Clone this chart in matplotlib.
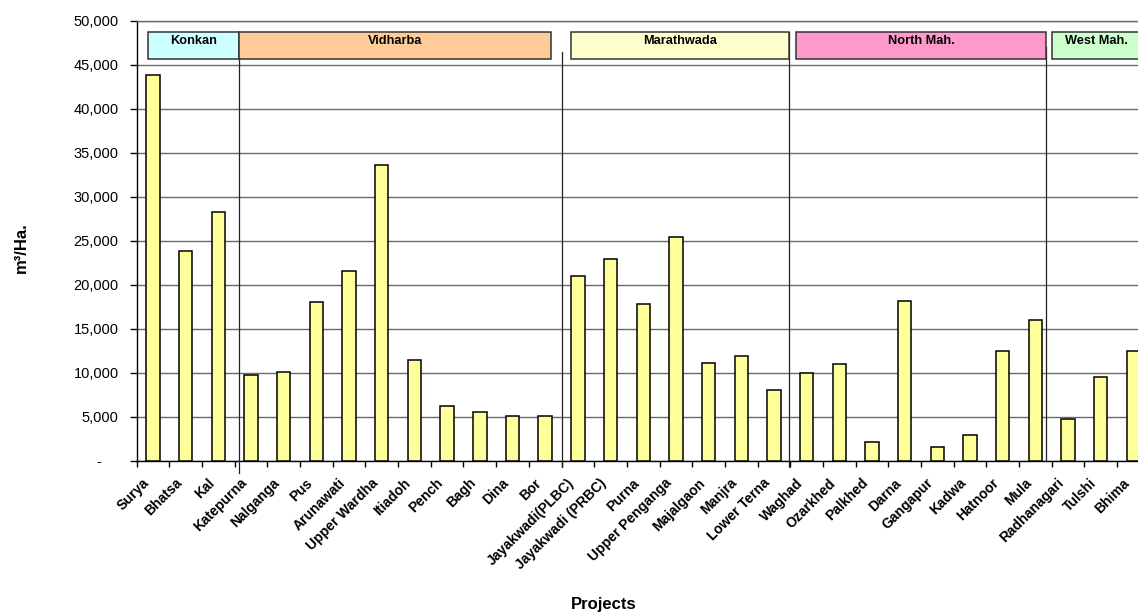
import numpy as np
import matplotlib
matplotlib.use("Agg")
import matplotlib.pyplot as plt
from matplotlib.patches import Rectangle
from matplotlib.ticker import FuncFormatter, MultipleLocator
import matplotlib.transforms as mtransforms

plt.rcParams["font.family"] = ["Liberation Sans", "DejaVu Sans"]

# Irrigation water use per project (m3 per hectare)
projects = [
    "Surya", "Bhatsa", "Kal",
    "Katepurna", "Nalganga", "Pus", "Arunawati", "Upper Wardha", "Itiadoh",
    "Pench", "Bagh", "Dina", "Bor",
    "Jayakwadi(PLBC)", "Jayakwadi (PRBC)", "Purna", "Upper Penganga",
    "Majalgaon", "Manjra", "Lower Terna",
    "Waghad", "Ozarkhed", "Palkhed", "Darna", "Gangapur", "Kadwa", "Hatnoor", "Mula",
    "Radhanagari", "Tulshi", "Bhima",
]
water_use = [
    43800, 23800, 28300,
    9700, 10100, 18000, 21600, 33600, 11400, 6250, 5530, 5110, 5110,
    21000, 22900, 17850, 25400, 11100, 11900, 8030,
    10000, 10950, 2150, 18200, 1560, 2920, 12500, 15950,
    4740, 9470, 12430,
]

regions = ["Konkan", "Vidharba", "Marathwada", "North Mah.", "West Mah."]
region_sizes = [3, 10, 7, 8, 3]
region_colors = ["#CCFFFF", "#FFCC99", "#FFFFCC", "#FF99CC", "#CCFFCC"]

# Header box insets (left, right) relative to each region's category span
header_insets = [(0.34, -0.12), (0.12, 0.31), (0.30, 0.05), (0.18, 0.17), (0.0, 0.26)]
header_bottom, header_top = 45650, 48750
# Region separator lines: x offset from boundary, top and bottom (data units)
sep_offsets = [0.12, 0.02, -0.05, -0.18]
sep_tops = [48750, 46400, 48750, 47030]
sep_bottoms = [-1400, -720, -720, 0]

W, H = 1138, 615
fig = plt.figure(figsize=(W / 100, H / 100), dpi=100)
ax = fig.add_axes([136.7 / W, 1 - 460.7 / H, 1013 / W, 440 / H])

x = np.arange(len(projects))
ax.bar(x, water_use, width=0.41, color="#FFFF99", edgecolor="black",
       linewidth=1.1, zorder=3)

ax.set_xlim(-0.5, len(projects) - 0.5)
ax.set_ylim(0, 50000)

# Grid and spines
ax.yaxis.set_major_locator(MultipleLocator(5000))
ax.yaxis.grid(True, color="#6a6a6a", linewidth=1.0)
ax.set_axisbelow(True)
ax.spines["right"].set_visible(False)
ax.spines["top"].set_color("#6a6a6a")
ax.spines["top"].set_linewidth(1.0)
for side in ("left", "bottom"):
    ax.spines[side].set_color("black")
    ax.spines[side].set_linewidth(1.0)

ax.yaxis.set_major_formatter(FuncFormatter(
    lambda v, _: "-    " if v == 0 else f"{v:,.0f}"))
ax.tick_params(axis="y", length=5, width=1, pad=8, labelsize=10.5,
               colors="black")

# Category ticks sit between bars; labels at bar centres
ax.set_xticks(x)
ax.set_xticklabels(projects, rotation=45, ha="right", va="top",
                   rotation_mode="anchor", fontweight="bold", fontsize=10)
ax.set_xticks(np.arange(-0.5, len(projects), 1), minor=True)
ax.tick_params(axis="x", which="major", length=0, pad=11)
ax.tick_params(axis="x", which="minor", length=4, width=1)
shift = mtransforms.ScaledTranslation(-11 / 100, 0, fig.dpi_scale_trans)
for lbl in ax.get_xticklabels():
    lbl.set_transform(lbl.get_transform() + shift)

# Region headers and separators
edges = np.concatenate([[0], np.cumsum(region_sizes)]) - 0.5
for i, (name, color) in enumerate(zip(regions, region_colors)):
    lp, rp = header_insets[i]
    left = edges[i] + lp
    right = edges[i + 1] - rp
    ax.add_patch(Rectangle((left, header_bottom), right - left,
                           header_top - header_bottom, facecolor=color,
                           edgecolor="#333333", linewidth=1.1, zorder=5,
                           clip_on=False))
    ax.annotate(name, ((left + right) / 2, header_top), xytext=(0, -2.5),
                textcoords="offset points", ha="center", va="top",
                fontsize=9.2, fontweight="bold", zorder=6)

for j in range(len(sep_offsets)):
    xs = edges[j + 1] + sep_offsets[j]
    ax.plot([xs, xs], [sep_bottoms[j], sep_tops[j]], color="#222222",
            linewidth=0.9, zorder=4, clip_on=False)

fig.text(21 / W, 1 - 248 / H, "m³/Ha.", rotation=90, ha="center",
         va="center", fontsize=12, fontweight="bold")
fig.text(604 / W, 1 - 605 / H, "Projects", ha="center", va="center",
         fontsize=12, fontweight="bold")

fig.savefig("out.png", dpi=100)
